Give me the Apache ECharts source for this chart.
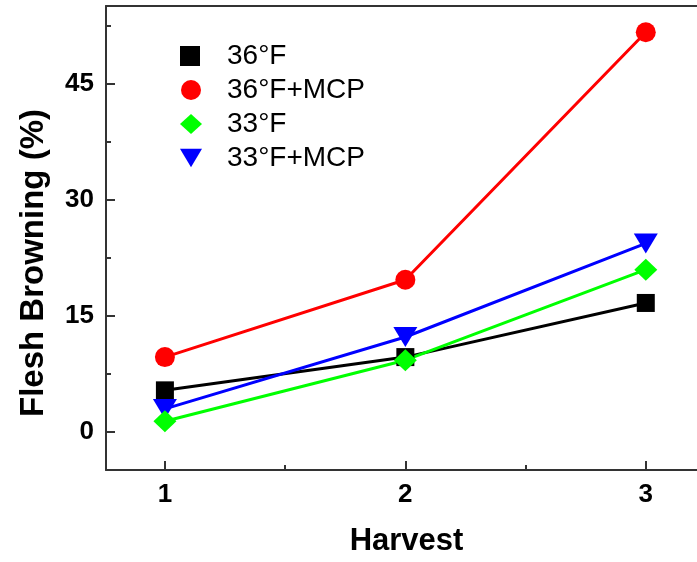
<!DOCTYPE html>
<html>
<head>
<meta charset="utf-8">
<script src="https://cdn.jsdelivr.net/npm/echarts@6/dist/echarts.min.js"></script>
<style>
html,body{margin:0;padding:0;background:#fff;}
#chart{width:697px;height:562px;}
</style>
</head>
<body>
<div id="chart"></div>
<script>
// ---- data ----
const harvests = [1, 2, 3];
const seriesNames = ['36°F', '36°F+MCP', '33°F', '33°F+MCP'];
const v36F = [5.3, 9.6, 16.6];
const v36FMCP = [9.6, 19.6, 51.6];
const v33F = [1.3, 9.2, 20.9];
const v33FMCP = [2.9, 12.2, 24.3];
const yTicks = [0, 15, 30, 45];
const yMinorTicks = [7.5, 22.5, 37.5, 52.5];
const xTicks = [1, 2, 3];
const xMinorTicks = [1.5, 2.5];

const FONT = "'Liberation Sans', Arial, sans-serif";
const TRI_DOWN = 'path://M0,0L24,0L12,20Z';
const X_MIN = 0.755, X_MAX = 3.213, Y_MIN = -5, Y_MAX = 55;

function pairs(vals) { return harvests.map((h, i) => [h, vals[i]]); }

const chart = echarts.init(document.getElementById('chart'), null, {renderer: 'canvas'});

const AX = {color: '#333', width: 2};

const option = {
  animation: false,
  backgroundColor: '#fff',
  grid: {left: 106, top: 6, right: 0, bottom: 86, show: false},
  legend: {
    orient: 'vertical',
    left: 175, top: 37,
    itemWidth: 22, itemHeight: 20, itemGap: 6,
    textStyle: {fontFamily: FONT, fontSize: 28, color: '#000', padding: [0, 0, 0, 20]},
    data: [
      {name: seriesNames[0], icon: 'square'},
      {name: seriesNames[1], icon: 'circle'},
      {name: seriesNames[2], icon: 'diamond'},
      {name: seriesNames[3], icon: TRI_DOWN}
    ]
  },
  xAxis: [
    {
      type: 'value', min: X_MIN, max: X_MAX, position: 'bottom', splitLine: {show: false},
      name: 'Harvest', nameLocation: 'middle', nameGap: 56,
      nameTextStyle: {fontFamily: FONT, fontSize: 31, fontWeight: 'bold', color: '#000',
                      padding: [0, 0, 0, 2 * (406.5 - (106 + 697) / 2)]},
      axisLine: {show: true, onZero: false, lineStyle: AX},
      axisTick: {show: true, inside: true, length: 9, lineStyle: AX, customValues: xTicks},
      axisLabel: {show: true, margin: 12, fontFamily: FONT, fontSize: 26, fontWeight: 'bold', color: '#000', customValues: xTicks}
    },
    {
      type: 'value', min: X_MIN, max: X_MAX, position: 'bottom', splitLine: {show: false},
      axisLine: {show: false, onZero: false},
      axisTick: {show: true, inside: true, length: 5, lineStyle: AX, customValues: xMinorTicks},
      axisLabel: {show: false}
    },
    {
      type: 'value', min: X_MIN, max: X_MAX, position: 'top', splitLine: {show: false},
      axisLine: {show: true, onZero: false, lineStyle: AX},
      axisTick: {show: false},
      axisLabel: {show: false}
    }
  ],
  yAxis: [
    {
      type: 'value', min: Y_MIN, max: Y_MAX, position: 'left', splitLine: {show: false},
      name: 'Flesh Browning (%)', nameLocation: 'middle', nameGap: 56,
      nameTextStyle: {fontFamily: FONT, fontSize: 33, fontWeight: 'bold', color: '#000', padding: [0, 50, 0, 0]},
      axisLine: {show: true, onZero: false, lineStyle: AX},
      axisTick: {show: true, inside: true, length: 9, lineStyle: AX, customValues: yTicks},
      axisLabel: {show: true, margin: 12, fontFamily: FONT, fontSize: 26, fontWeight: 'bold', color: '#000', customValues: yTicks}
    },
    {
      type: 'value', min: Y_MIN, max: Y_MAX, position: 'left', splitLine: {show: false},
      axisLine: {show: false, onZero: false},
      axisTick: {show: true, inside: true, length: 5, lineStyle: AX, customValues: yMinorTicks},
      axisLabel: {show: false}
    }
  ],
  series: [
    {
      name: seriesNames[0], type: 'line', data: pairs(v36F),
      symbol: 'rect', symbolSize: 18,
      itemStyle: {color: '#000000'}, lineStyle: {color: '#000000', width: 3}
    },
    {
      name: seriesNames[1], type: 'line', data: pairs(v36FMCP),
      symbol: 'circle', symbolSize: 20,
      itemStyle: {color: '#ff0000'}, lineStyle: {color: '#ff0000', width: 3}
    },
    {
      name: seriesNames[3], type: 'line', data: pairs(v33FMCP),
      symbol: TRI_DOWN, symbolSize: [24, 20],
      itemStyle: {color: '#0000ff'}, lineStyle: {color: '#0000ff', width: 3}
    },
    {
      name: seriesNames[2], type: 'line', data: pairs(v33F),
      symbol: 'diamond', symbolSize: [23, 22],
      itemStyle: {color: '#00ff00'}, lineStyle: {color: '#00ff00', width: 3}
    }
  ]
};

chart.setOption(option);
</script>
</body>
</html>
